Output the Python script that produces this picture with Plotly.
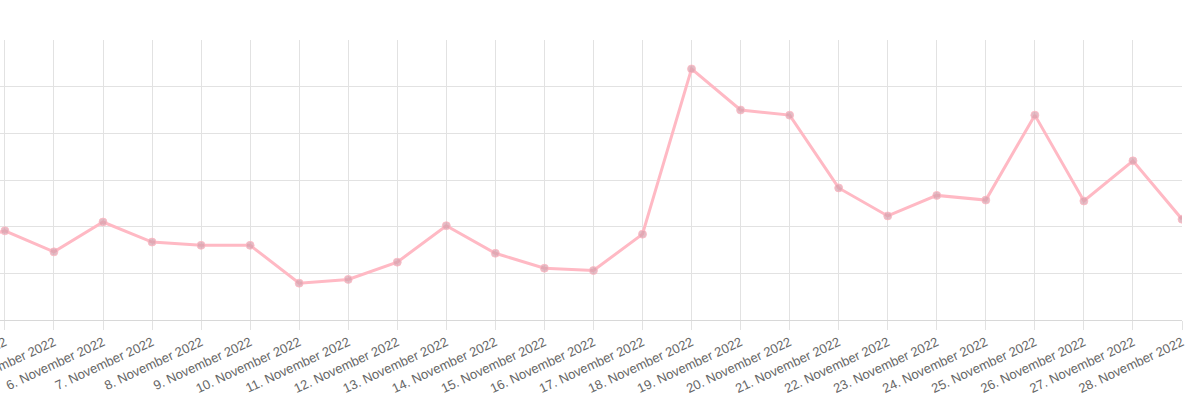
import plotly.graph_objects as go

dates = [f"{d}. November 2022" for d in range(3, 29)]
values = [16.5, 19.1, 14.6, 21.0, 16.7, 16.0, 16.0, 7.9, 8.7, 12.4, 20.2, 14.3, 11.1,
          10.6, 18.4, 53.8, 45.0, 43.9, 28.3, 22.3, 26.7, 25.7, 43.9, 25.5, 34.1, 21.6]

fig = go.Figure()
fig.add_trace(go.Scatter(
    x=dates, y=values, mode="lines+markers",
    line=dict(color="rgb(255,185,196)", width=3),
    marker=dict(size=8, color="rgba(215,160,172,0.7)",
                line=dict(color="rgba(255,185,196,0.8)", width=1)),
    cliponaxis=True,
))

fig.update_layout(
    width=1200, height=399,
    margin=dict(l=0, r=18, t=40, b=79, autoexpand=False),
    paper_bgcolor="white", plot_bgcolor="white",
    showlegend=False,
    font=dict(family="Liberation Sans, Arial, sans-serif", size=13, color="#666"),
)
fig.update_xaxes(
    type="category", range=[0.9, 25], automargin=False,
    showgrid=True, gridcolor="#e2e2e2", gridwidth=1,
    ticks="outside", ticklen=9, tickcolor="#e2e2e2",
    tickangle=-25, tickfont=dict(size=13, color="#666"),
    showline=True, linecolor="#d8d8d8", linewidth=1,
    zeroline=False,
)
fig.update_yaxes(
    range=[0, 60], dtick=10, showgrid=True, gridcolor="#e2e2e2", gridwidth=1,
    showticklabels=False, zeroline=False, showline=False, ticks="", automargin=False,
)

fig.write_html("out.html")
